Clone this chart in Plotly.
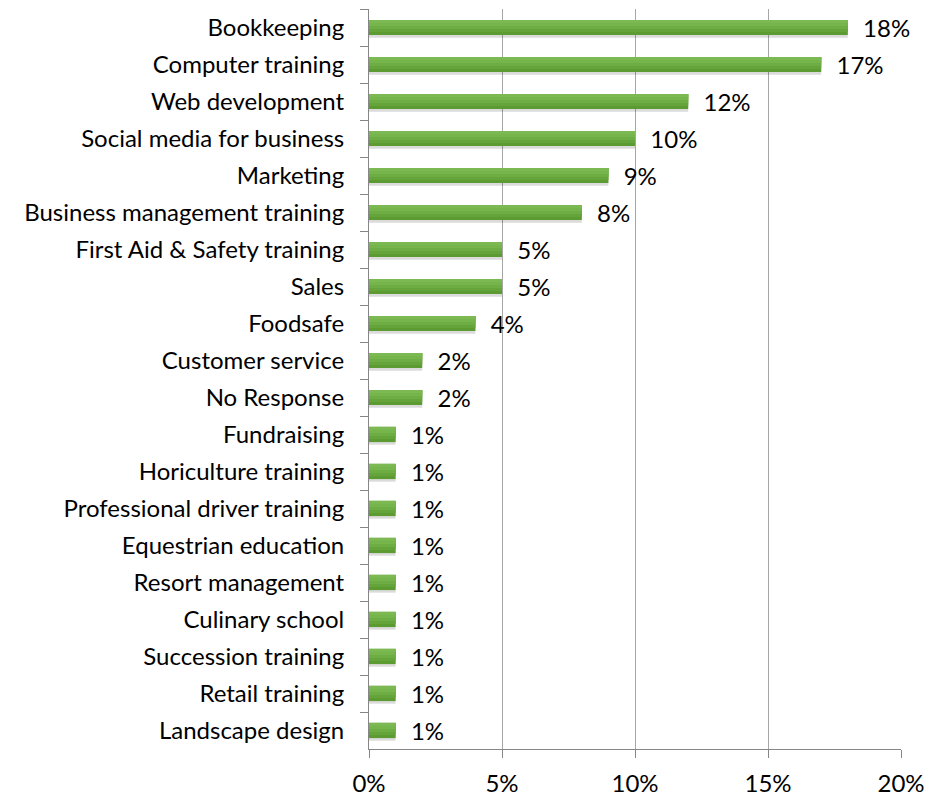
import plotly.graph_objects as go

categories = [
    "Bookkeeping", "Computer training", "Web development", "Social media for business",
    "Marketing", "Business management training", "First Aid & Safety training", "Sales",
    "Foodsafe", "Customer service", "No Response", "Fundraising", "Horiculture training",
    "Professional driver training", "Equestrian education", "Resort management",
    "Culinary school", "Succession training", "Retail training", "Landscape design",
]
values = [18, 17, 12, 10, 9, 8, 5, 5, 4, 2, 2, 1, 1, 1, 1, 1, 1, 1, 1, 1]
x_ticks = [0, 5, 10, 15, 20]
x_tick_labels = ["0%", "5%", "10%", "15%", "20%"]

FONT = "Lato"
FSIZE = 24
NBSP = "\u00a0"
labels = [f"{NBSP * 2}{v}%" for v in values]

BAR_W = 0.41
BAR_OFF = -BAR_W / 2

fig = go.Figure()

# soft drop shadow beneath each bar
fig.add_trace(go.Bar(
    y=categories, x=values, orientation="h",
    width=BAR_W + 0.02, offset=BAR_OFF + 0.05,
    marker=dict(color="rgba(0,0,0,0.14)", line=dict(width=0)),
    hoverinfo="skip",
))

# base (darkest) band of the bar, carries the value labels
fig.add_trace(go.Bar(
    y=categories, x=values, orientation="h",
    width=BAR_W, offset=BAR_OFF,
    marker=dict(color="#5b9b31", line=dict(width=0)),
    text=labels, textposition="outside", cliponaxis=False,
    constraintext="none",
    outsidetextfont=dict(family=FONT, size=FSIZE, color="#000000"),
))

# lighter bands stacked from the top edge to fake a vertical gradient
for frac, col in [(0.8, "#65a43b"), (0.6, "#6eac44"), (0.4, "#76b44c"), (0.2, "#7cb952")]:
    fig.add_trace(go.Bar(
        y=categories, x=values, orientation="h",
        width=BAR_W * frac, offset=BAR_OFF,
        marker=dict(color=col, line=dict(width=0)),
        hoverinfo="skip",
    ))

fig.update_layout(
    width=930, height=797,
    margin=dict(l=369, r=29, t=9, b=48),
    paper_bgcolor="white", plot_bgcolor="white",
    barmode="overlay", showlegend=False,
    font=dict(family=FONT, size=FSIZE, color="#000000"),
    xaxis=dict(
        range=[0, 20], tickvals=x_ticks, ticktext=x_tick_labels,
        showgrid=True, gridcolor="#a6a6a6", gridwidth=1,
        showline=True, linecolor="#868686", linewidth=1,
        ticks="outside", ticklen=8, tickcolor="#868686",
        ticklabelstandoff=5, automargin=False,
        zeroline=False, fixedrange=True,
        tickfont=dict(family=FONT, size=FSIZE, color="#000000"),
    ),
    yaxis=dict(
        autorange="reversed", type="category",
        showline=True, linecolor="#868686", linewidth=1,
        ticks="outside", ticklen=8, tickcolor="#868686",
        tickson="boundaries", showgrid=False, zeroline=False,
        ticklabelstandoff=19, automargin=False,
        tickfont=dict(family=FONT, size=FSIZE, color="#000000"),
    ),
)

fig.write_html("out.html")
